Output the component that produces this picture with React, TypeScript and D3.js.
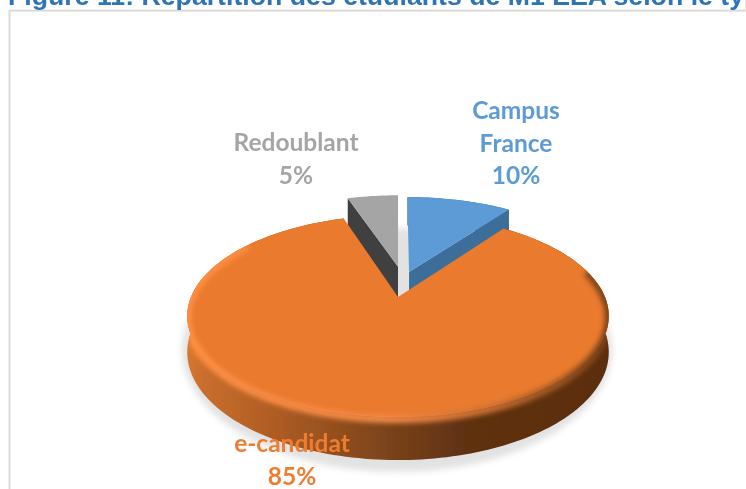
import React from "react";
import * as d3 from "d3";

const categories = ["Campus France", "e-candidat", "Redoublant"];
const values = [10, 85, 5];
const topColors = ["#5B9BD5", "#E97A2F", "#A5A5A5"];
const sideColors = ["#3D6E9A", "#8A4A1C", "#404040"];
const labelColors = ["#5B9BD5", "#ED7D31", "#A5A5A5"];
const labelLines = [["Campus", "France", "10%"], ["e-candidat", "85%"], ["Redoublant", "5%"]];
const labelPositions = [[516, 119], [292, 452], [296, 151]];
const titleText = "Figure 11: Répartition des étudiants de M1 EEA selon le type";

// perspective of the pie plane, fitted on the reference
const apex = { x: 398, y: 297 };
const radiusX = 207;
const radiusY = 97.4;
const persp = 0.188;
const depth = 35;
// world-space explosion and radius of each slice
const offsets = [[0.056, 0.27], [0, 0], [0, 0.33]];
const radii = [1, 1, 0.97];

function project(X: number, Y: number, z = 0): [number, number] {
  const w = 1 + persp * Y;
  return [apex.x + (radiusX * X) / w, apex.y - (radiusY * Y) / w + (depth * z) / w];
}

const pieLayout = d3.pie<number>().sort(null).startAngle(0).endAngle(2 * Math.PI);
const slices = pieLayout(values);
const pathOf = d3.line<[number, number]>().curve(d3.curveLinear);

function rimPoint(i: number, a: number, z = 0): [number, number] {
  const [ox, oy] = offsets[i];
  return project(ox + radii[i] * Math.sin(a), oy + radii[i] * Math.cos(a), z);
}
function centerPoint(i: number, z = 0): [number, number] {
  return project(offsets[i][0], offsets[i][1], z);
}
function arcPoints(i: number, z = 0, from?: number, to?: number): [number, number][] {
  const s = from ?? slices[i].startAngle;
  const e = to ?? slices[i].endAngle;
  const n = Math.max(8, Math.ceil(Math.abs(e - s) * 40));
  return d3.range(n + 1).map((k) => rimPoint(i, s + ((e - s) * k) / n, z));
}
const topPath = (i: number) => pathOf([centerPoint(i), ...arcPoints(i)])! + "Z";
const wallPath = (i: number) => {
  const top = arcPoints(i);
  const bottom = arcPoints(i, 1).reverse();
  return pathOf([...top, ...bottom])! + "Z";
};
const cutFace = (i: number, a: number) =>
  pathOf([centerPoint(i), rimPoint(i, a), rimPoint(i, a, 1), centerPoint(i, 1)])! + "Z";

const sideStops: [number, string][] = [
  [0, "#D9772F"],
  [0.04, "#C96E2E"],
  [0.2, "#B05D24"],
  [0.32, "#9A5220"],
  [0.48, "#7A431A"],
  [0.67, "#5E3011"],
  [1, "#5C2F11"],
];

export default function App() {
  const main = 1;
  const blue = 0;
  const grey = 2;
  const rad = Math.PI / 180;
  return (
    <svg
      width={746}
      height={489}
      viewBox="0 0 746 489"
      style={{ position: "absolute", left: 0, top: 0, display: "block" }}
    >
      <defs>
        <filter id="shadowBlur" x="-10%" y="-10%" width="120%" height="120%">
          <feGaussianBlur stdDeviation="3" />
        </filter>
        <filter id="rimBlur" filterUnits="userSpaceOnUse" x="150" y="180" width="500" height="300">
          <feGaussianBlur stdDeviation="2.5" />
        </filter>
        <filter id="soft" filterUnits="userSpaceOnUse" x="0" y="0" width="746" height="489">
          <feGaussianBlur stdDeviation="0.4" />
        </filter>
        <linearGradient id="side" x1="186" x2="608" y1="0" y2="0" gradientUnits="userSpaceOnUse">
          {sideStops.map(([o, c]) => (
            <stop key={o} offset={o} stopColor={c} />
          ))}
        </linearGradient>
        <linearGradient id="rim" x1="186" x2="608" y1="0" y2="0" gradientUnits="userSpaceOnUse">
          <stop offset="0" stopColor="#FF8F42" />
          <stop offset="0.5" stopColor="#F28845" />
          <stop offset="0.72" stopColor="#C96E30" />
          <stop offset="1" stopColor="#7A4118" />
        </linearGradient>
        <clipPath id="mainBody">
          <path d={topPath(main)} />
          <path d={wallPath(main)} />
        </clipPath>
      </defs>

      <rect x={0} y={0} width={746} height={489} fill="#FFFFFF" />
      <rect x={9.5} y={10.6} width={760} height={500} fill="none" stroke="#D9D9D9" strokeWidth={2} />

      <ellipse cx={397} cy={350} rx={215} ry={122} fill="#E2E2E2" filter="url(#shadowBlur)" />

      <g filter="url(#soft)">
        <path d={cutFace(grey, slices[grey].startAngle)} fill={sideColors[grey]} />
        <path d={topPath(grey)} fill={topColors[grey]} />
        <path d={cutFace(blue, slices[blue].endAngle)} fill={sideColors[blue]} />
        <path d={wallPath(blue)} fill={sideColors[blue]} />
        <path d={topPath(blue)} fill={topColors[blue]} />
        <path d={wallPath(main)} fill="url(#side)" />
        <path d={topPath(main)} fill={topColors[main]} />
      </g>
      <g clipPath="url(#mainBody)">
        <path
          d={pathOf(arcPoints(main, 0.05, 75 * rad, 305 * rad))!}
          fill="none"
          stroke="url(#rim)"
          strokeWidth={8}
          strokeLinecap="round"
          filter="url(#rimBlur)"
        />
      </g>

      <g filter="url(#soft)">
        {slices.map((s, i) => (
          <text
            key={categories[i]}
            textAnchor="middle"
            fontFamily="Lato, sans-serif"
            fontWeight={700}
            fontSize={24.5}
            fill={labelColors[i]}
          >
            {labelLines[i].map((line, k) => (
              <tspan key={k} x={labelPositions[i][0]} y={labelPositions[i][1] + k * 32.5}>
                {line}
              </tspan>
            ))}
          </text>
        ))}
        <text
          x={8}
          y={4.5}
          fontFamily="'Liberation Sans', Arial, sans-serif"
          fontWeight={700}
          fontSize={26.7}
          fill="#2E74B5"
        >
          {titleText}
        </text>
      </g>
    </svg>
  );
}
